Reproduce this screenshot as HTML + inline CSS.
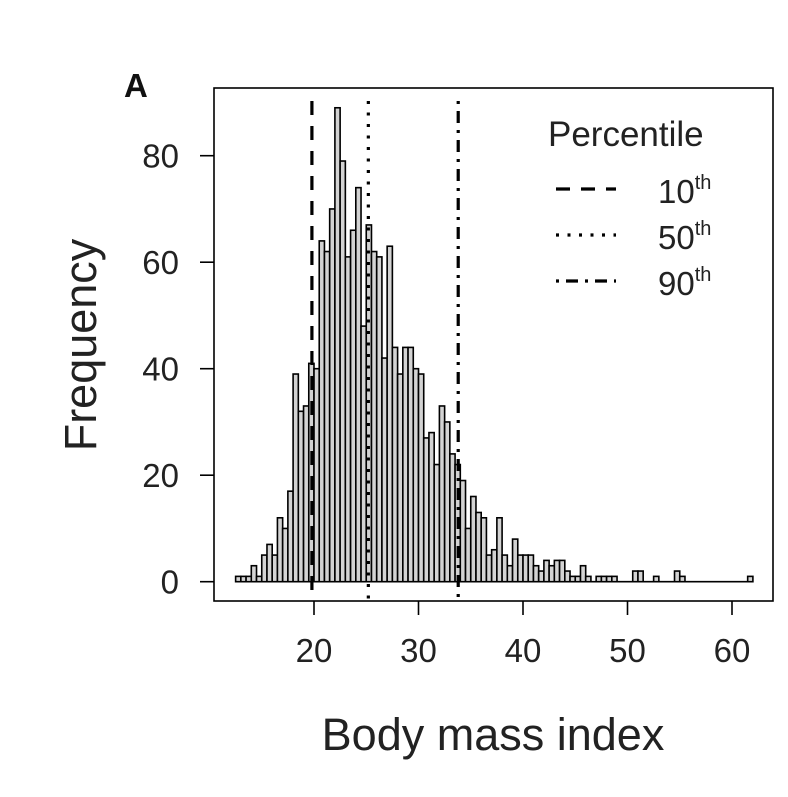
<!DOCTYPE html>
<html><head><meta charset="utf-8"><style>body{margin:0;background:#fff}svg{display:block;font-family:"Liberation Sans",Arial,sans-serif}</style></head>
<body>
<svg id="chart" width="788" height="797"></svg>
<script>
const binStart = 12.5, binWidth = 0.5;
const counts = [1,1,1,3,1,5,7,5,12,10,17,39,32,33,41,40,64,62,70,89,79,61,66,74,48,67,62,61,42,63,44,39,44,44,40,39,27,28,22,33,30,24,22,19,10,16,13,12,5,6,12,5,3,8,5,5,5,3,2,4,3,4,4,2,1,1,3,1,0,1,1,1,1,0,0,0,2,2,0,0,1,0,0,0,2,1,0,0,0,0,0,0,0,0,0,0,0,0,1];
const yTicks = [0,20,40,60,80];
const xTicks = [20,30,40,50,60];
const percentileNames = ["10th","50th","90th"];
const percentileValues = [19.8,25.2,33.8];
const dashStyles = ["14,11","3,8.5","3,7,12,7"];

const svg = document.getElementById('chart');
const NS = 'http://www.w3.org/2000/svg';
const X = v => 314 + (v - 20) * 10.45;
const Y = v => 581.7 - v * 5.325;
function mk(tag, attrs, parent) { const e = document.createElementNS(NS, tag); for (const k in attrs) e.setAttribute(k, attrs[k]); (parent || svg).appendChild(e); return e; }

const bars = mk('g', {});


const base = mk('line', {x1: X(binStart), x2: X(binStart + counts.length * binWidth), y1: Y(0), y2: Y(0), stroke: '#000', 'stroke-width': 1.6}, bars);


counts.forEach((c, i) => {
  const x0 = X(binStart + i * binWidth), x1 = X(binStart + (i + 1) * binWidth);
  const r = mk('rect', {x: x0, y: Y(c), width: x1 - x0, height: Y(0) - Y(c), fill: '#d3d3d3', stroke: '#000', 'stroke-width': 1.6}, bars);
  
  
});

percentileValues.forEach((v, i) => {
  const l = mk('line', {x1: X(v), x2: X(v), y1: 101, y2: 600, stroke: '#000', 'stroke-width': 3.2, 'stroke-dasharray': dashStyles[i]});
  
  
});

const box = mk('rect', {x: 214, y: 88, width: 559, height: 513, fill: 'none', stroke: '#000', 'stroke-width': 1.6});



yTicks.forEach(t => {
  const tk = mk('line', {x1: 200, x2: 214, y1: Y(t), y2: Y(t), stroke: '#000', 'stroke-width': 1.6});
  
  
  const tx = mk('text', {x: 179, y: Y(t) + 12, 'text-anchor': 'end', 'font-size': 33, fill: '#222'});
  tx.textContent = t;
  
  
});
xTicks.forEach(t => {
  const tk = mk('line', {x1: X(t), x2: X(t), y1: 601, y2: 615, stroke: '#000', 'stroke-width': 1.6});
  
  
  const tx = mk('text', {x: X(t), y: 662, 'text-anchor': 'middle', 'font-size': 33, fill: '#222'});
  tx.textContent = t;
  
  
});

const lg = mk('g', {});


const lt = mk('text', {x: 548, y: 146, 'font-size': 35, fill: '#222'}, lg);
lt.textContent = 'Percentile';


percentileNames.forEach((n, i) => {
  const y = 189 + i * 46;
  const l = mk('line', {x1: 556, x2: 616, y1: y, y2: y, stroke: '#000', 'stroke-width': 3.2, 'stroke-dasharray': dashStyles[i]}, lg);
  
  
  const t = mk('text', {x: 658, y: y + 14, 'font-size': 33, fill: '#222'}, lg);
  
  
  const num = n.replace('th', '');
  t.appendChild(document.createTextNode(num));
  const s = mk('tspan', {'font-size': 20, dy: -14}, t);
  s.textContent = 'th';
});

const xt = mk('text', {x: 493, y: 750, 'text-anchor': 'middle', 'font-size': 45, fill: '#222'});
xt.textContent = 'Body mass index';


const yt = mk('text', {x: 0, y: 0, 'text-anchor': 'middle', 'font-size': 45, fill: '#222', transform: 'translate(96,345) rotate(-90)'});
yt.textContent = 'Frequency';


const pl = mk('text', {x: 124, y: 97, 'font-size': 33, 'font-weight': 'bold', fill: '#111'});
pl.textContent = 'A';


</script>
</body></html>
